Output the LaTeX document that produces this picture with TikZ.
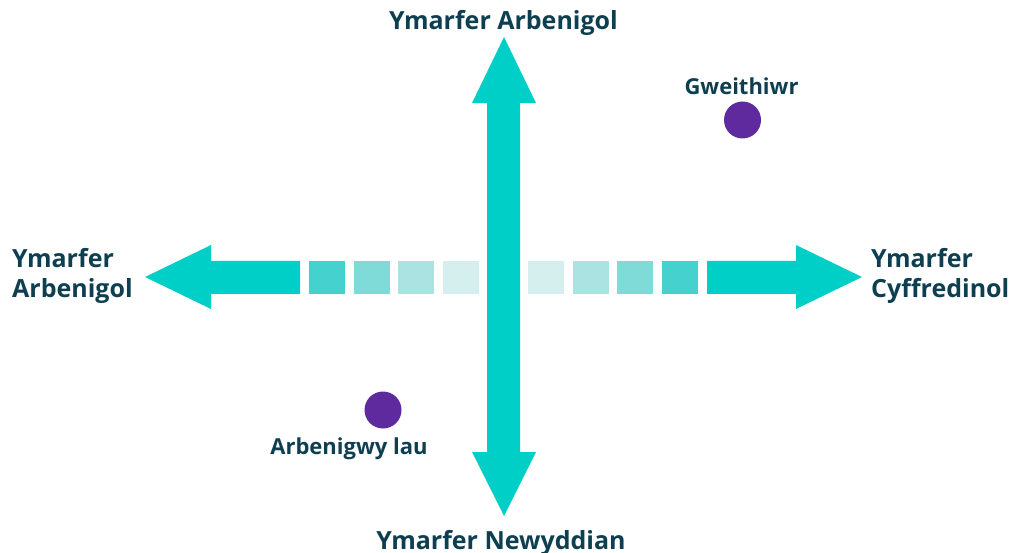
\documentclass[tikz,border=0pt]{standalone}
\usepackage{fontspec}
\setmainfont{Open Sans}
\definecolor{arrowc}{HTML}{00CFC8}
\definecolor{sqA}{HTML}{45D1CE}
\definecolor{sqB}{HTML}{7EDBD7}
\definecolor{sqC}{HTML}{ABE3E2}
\definecolor{sqD}{HTML}{D5EFEF}
\definecolor{txt}{HTML}{0E3F50}
\definecolor{dotc}{HTML}{5E2A9E}
\tikzset{
  bigarrow/.style={fill=arrowc, draw=none},
  sq/.style={draw=none},
  axislabel/.style={text=txt, font=\fontsize{25}{30}\selectfont\bfseries, inner sep=0pt, align=left},
  ptlabel/.style={text=txt, font=\fontsize{22}{27}\selectfont\bfseries, inner sep=0pt},
  dot/.style={circle, fill=dotc, minimum size=37pt, inner sep=0pt, draw=none}
}
\begin{document}
\begin{tikzpicture}[x=1pt,y=-1pt]
\useasboundingbox (0,0) rectangle (1009,553);
% horizontal arrows
\fill[bigarrow] (145,277) -- (211,245) -- (211,261) -- (300,261) -- (300,294) -- (211,294) -- (211,309) -- cycle;
\fill[bigarrow] (707,261) -- (796,261) -- (796,245) -- (862,277) -- (796,309) -- (796,294) -- (707,294) -- cycle;
% fading squares left
\fill[sqA] (309,261) rectangle (345,294);
\fill[sqB] (354,261) rectangle (390,294);
\fill[sqC] (398,261) rectangle (434,294);
\fill[sqD] (443,261) rectangle (479,294);
% fading squares right
\fill[sqD] (528,261) rectangle (564,294);
\fill[sqC] (573,261) rectangle (609,294);
\fill[sqB] (617,261) rectangle (653,294);
\fill[sqA] (662,261) rectangle (698,294);
% vertical double arrow
\fill[bigarrow] (504,37) -- (536,103) -- (520,103) -- (520,452) -- (536,452) -- (504,516) -- (472,452) -- (487,452) -- (487,103) -- (472,103) -- cycle;
% labels
\node[axislabel, anchor=base] (top) at (503.5,30) {Ymarfer Arbenigol};
\node[axislabel, anchor=base] (bottom) at (501,549) {Ymarfer Newyddian};
\node[axislabel, anchor=base west] (left) at (12,298) {Ymarfer\\Arbenigol};
\node[axislabel, anchor=base west] (right) at (871,298) {Ymarfer\\Cyffredinol};
% points
\node[dot] (gw) at (742.5,120) {};
\node[ptlabel, anchor=base] (gwl) at (741.5,95) {Gweithiwr};
\node[dot] (ar) at (383,410) {};
\node[ptlabel, anchor=base] (arl) at (349,454) {Arbenigwy lau};
\end{tikzpicture}
\end{document}
